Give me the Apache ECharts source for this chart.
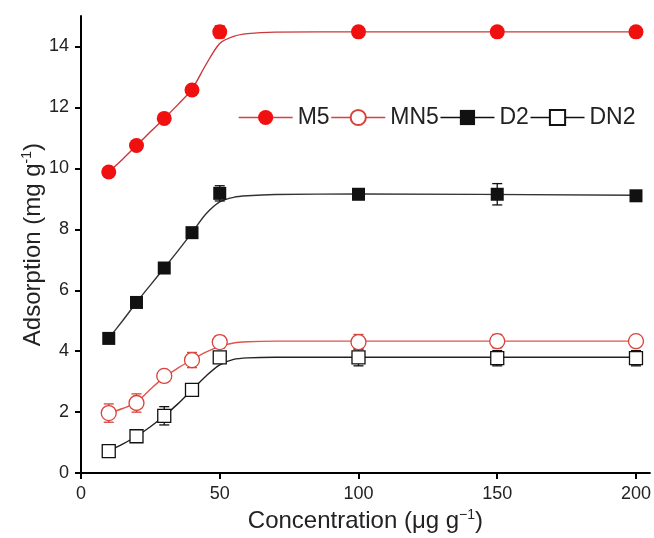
<!DOCTYPE html>
<html>
<head>
<meta charset="utf-8">
<script src="https://cdn.jsdelivr.net/npm/echarts@6/dist/echarts.min.js"></script>
<style>
html,body{margin:0;padding:0;background:#fff;}
#main{width:654px;height:538px;}
</style>
</head>
<body>
<div id="main"></div>
<script>
// measured points
const conc = [10, 20, 30, 40, 50, 100, 150, 200];
const m5 = [9.88, 10.75, 11.64, 12.57, 14.48, 14.48, 14.48, 14.48];
const mn5 = [1.97, 2.3, 3.19, 3.71, 4.3, 4.3, 4.33, 4.33];
const d2 = [4.42, 5.6, 6.73, 7.89, 9.18, 9.15, 9.15, 9.1];
const dn2 = [0.72, 1.21, 1.88, 2.73, 3.8, 3.8, 3.77, 3.77];
// error bars (half width)
const m5Err = [0.1, 0.15, 0.1, 0.1, 0.2, 0.1, 0.1, 0.1];
const mn5Err = [0.3, 0.3, 0.15, 0.25, 0.2, 0.25, 0.22, 0.15];
const d2Err = [0.1, 0.15, 0.1, 0.1, 0.25, 0.1, 0.35, 0.1];
const dn2Err = [0.1, 0.1, 0.3, 0.15, 0.1, 0.28, 0.25, 0.25];
// fitted curves
const fitX = [10, 15, 20, 25, 30, 35, 40, 45, 50, 55, 60, 70, 100, 200];
const m5Fit = [9.88, 10.3, 10.75, 11.2, 11.64, 12.1, 12.6, 13.4, 14.1, 14.33, 14.42, 14.47, 14.48, 14.48];
const mn5Fit = [1.97, 2.12, 2.32, 2.75, 3.15, 3.45, 3.72, 3.97, 4.16, 4.27, 4.31, 4.33, 4.33, 4.33];
const d2Fit = [4.42, 5.0, 5.6, 6.17, 6.73, 7.3, 7.89, 8.5, 8.9, 9.05, 9.1, 9.14, 9.16, 9.12];
const dn2Fit = [0.72, 0.95, 1.21, 1.52, 1.88, 2.28, 2.73, 3.18, 3.55, 3.73, 3.78, 3.8, 3.8, 3.8];

const red = '#f01010';
const red2 = '#d8423a';
const black = '#111';
const font = 'Liberation Sans, Arial, sans-serif';

function pairs(xs, ys) { return xs.map((x, i) => [x, ys[i]]); }
function errData(ys, es) { return conc.map((x, i) => [x, ys[i], es[i]]); }

// vertical error bar with caps
function errRender(color) {
  return function (params, api) {
    let x = api.value(0), y = api.value(1), e = api.value(2);
    let top = api.coord([x, y + e]);
    let bot = api.coord([x, y - e]);
    let w = 5;
    let style = { stroke: color, lineWidth: 1.3 };
    return {
      type: 'group',
      children: [
        { type: 'line', shape: { x1: top[0], y1: top[1], x2: bot[0], y2: bot[1] }, style: style },
        { type: 'line', shape: { x1: top[0] - w, y1: top[1], x2: top[0] + w, y2: top[1] }, style: style },
        { type: 'line', shape: { x1: bot[0] - w, y1: bot[1], x2: bot[0] + w, y2: bot[1] }, style: style }
      ]
    };
  };
}

function fitSeries(ys, color) {
  return {
    type: 'line', data: pairs(fitX, ys), smooth: 0.3,
    showSymbol: false, silent: true, z: 1,
    lineStyle: { color: color, width: 1.4 }
  };
}
function errSeries(ys, es, color) {
  return { type: 'custom', data: errData(ys, es), renderItem: errRender(color), z: 2, silent: true };
}
function pointSeries(name, ys, symbol, size, fill, stroke) {
  return {
    name: name, type: 'line', data: pairs(conc, ys), symbol: symbol, symbolSize: size,
    showSymbol: true, z: 3,
    lineStyle: { opacity: 0, color: stroke },
    itemStyle: { color: fill, borderColor: stroke, borderWidth: fill === '#fff' ? 1.3 : 0, opacity: 1 }
  };
}

let myChart = echarts.init(document.getElementById('main'));
let supStyle = { fontSize: 14, padding: [0, 0, 12, 0], fontFamily: font, color: '#222' };

let option = {
  animation: false,
  backgroundColor: '#fff',
  grid: { left: 81, right: 4, top: 16, bottom: 64, containLabel: false },
  legend: {
    left: 233, top: 101, itemWidth: 54, itemHeight: 19, itemGap: 1,
    textStyle: { fontSize: 23, color: '#222', fontFamily: font },
    data: [
      { name: 'M5', lineStyle: { opacity: 1, color: red2, width: 1.3 } },
      { name: 'MN5', lineStyle: { opacity: 1, color: red2, width: 1.3 } },
      { name: 'D2', lineStyle: { opacity: 1, color: black, width: 1.3 } },
      { name: 'DN2', lineStyle: { opacity: 1, color: black, width: 1.3 } }
    ]
  },
  xAxis: {
    type: 'value', min: 0, max: 205, interval: 50,
    name: 'Concentration (μg g{sup|−1})',
    nameLocation: 'middle', nameGap: 34,
    nameTextStyle: { fontSize: 24, color: '#222', fontFamily: font, rich: { sup: supStyle } },
    splitLine: { show: false },
    axisLine: { onZero: false, lineStyle: { color: '#000', width: 2 } },
    axisTick: { show: true, length: 6, lineStyle: { color: '#000', width: 2 } },
    axisLabel: { fontSize: 18, margin: 12, color: '#222', fontFamily: font, showMaxLabel: false }
  },
  yAxis: {
    type: 'value', min: 0, max: 15, interval: 2,
    name: 'Adsorption (mg g{sup|-1})',
    nameLocation: 'middle', nameGap: 35, nameMoveOverlap: false,
    nameTextStyle: { fontSize: 24, color: '#222', fontFamily: font, rich: { sup: supStyle } },
    splitLine: { show: false },
    axisLine: { show: true, onZero: false, lineStyle: { color: '#000', width: 2 } },
    axisTick: { show: true, length: 6, lineStyle: { color: '#000', width: 2 } },
    axisLabel: { fontSize: 18, margin: 12, color: '#222', fontFamily: font, showMaxLabel: false }
  },
  series: [
    fitSeries(m5Fit, '#c8383a'),
    fitSeries(mn5Fit, '#e2534c'),
    fitSeries(d2Fit, '#333'),
    fitSeries(dn2Fit, '#222'),
    errSeries(m5, m5Err, red),
    errSeries(mn5, mn5Err, red2),
    errSeries(d2, d2Err, black),
    errSeries(dn2, dn2Err, black),
    pointSeries('M5', m5, 'circle', 15, red, red),
    pointSeries('MN5', mn5, 'circle', 15, '#fff', red2),
    pointSeries('D2', d2, 'rect', 13, black, black),
    pointSeries('DN2', dn2, 'rect', 13, '#fff', black)
  ]
};

myChart.setOption(option);
</script>
</body>
</html>
